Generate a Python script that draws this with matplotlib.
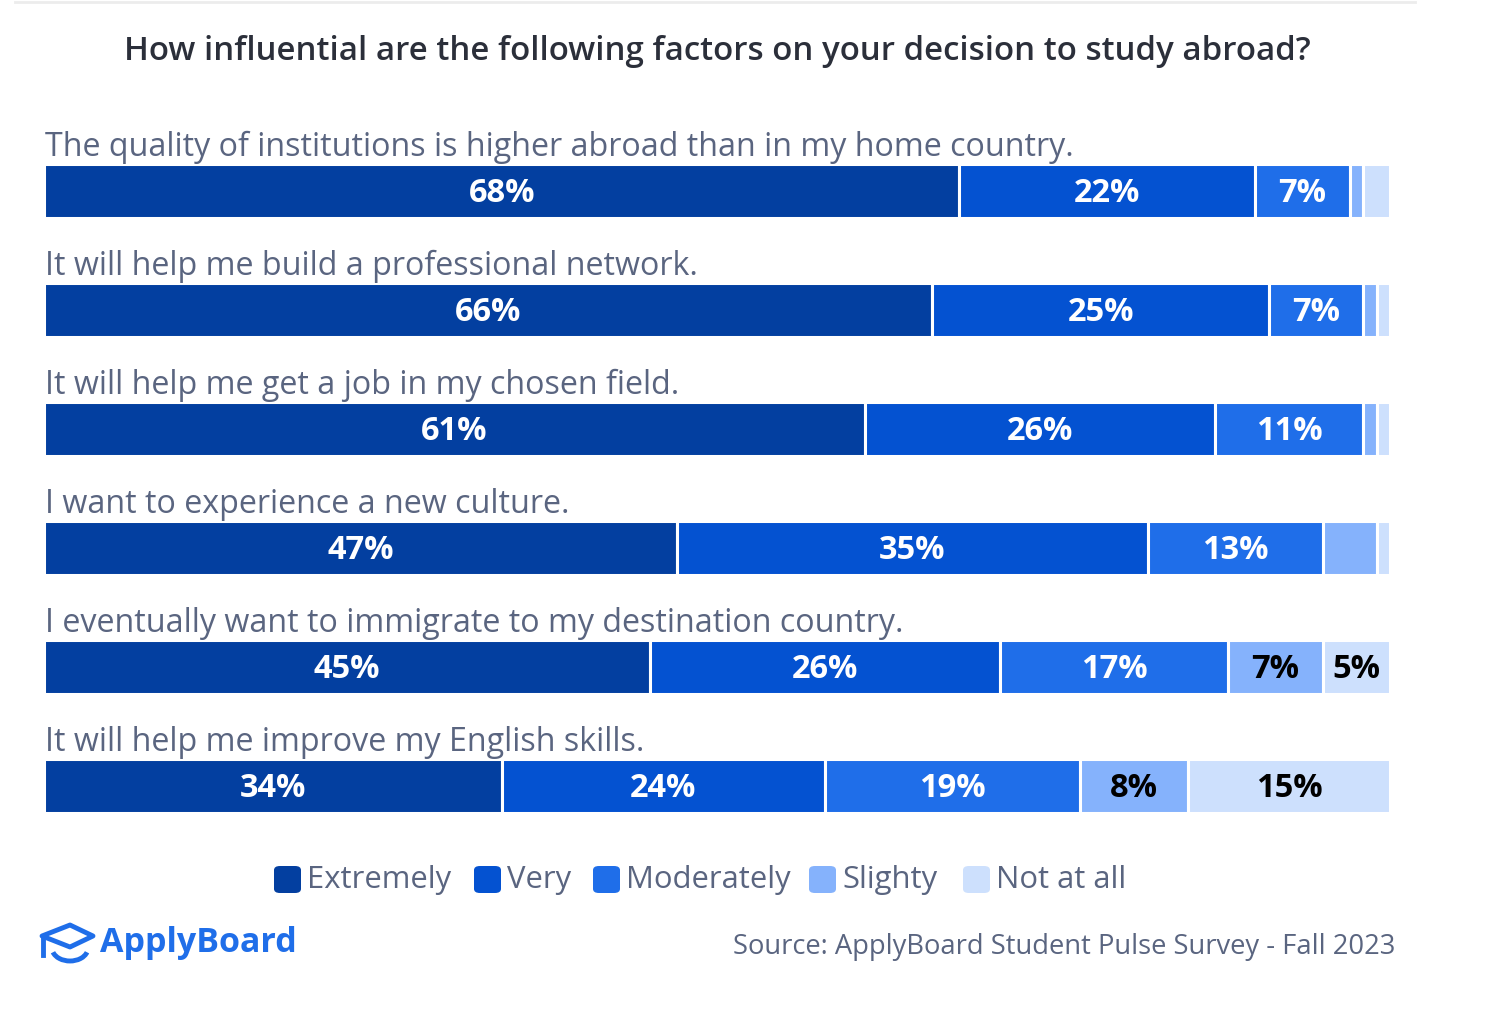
import matplotlib.pyplot as plt
from matplotlib.patches import FancyBboxPatch, Polygon, Arc
import numpy as np

# survey data
factors = [
    "The quality of institutions is higher abroad than in my home country.",
    "It will help me build a professional network.",
    "It will help me get a job in my chosen field.",
    "I want to experience a new culture.",
    "I eventually want to immigrate to my destination country.",
    "It will help me improve my English skills.",
]
levels = ["Extremely", "Very", "Moderately", "Slighty", "Not at all"]
extremely = [68, 66, 61, 47, 45, 34]
very = [22, 25, 26, 35, 26, 24]
moderately = [7, 7, 11, 13, 17, 19]
slightly = [1, 1, 1, 4, 7, 8]
not_at_all = [2, 1, 1, 1, 5, 15]

colors = ["#033fa0", "#0452d1", "#1f6ee9", "#85b2fc", "#cde0fd"]
label_colors = ["white", "white", "white", "black", "black"]

W, H = 1492, 1024
fig = plt.figure(figsize=(W / 100, H / 100), dpi=100)
plt.rcParams['font.family'] = ['Open Sans', 'DejaVu Sans']

def px(x, y):
    return x / W, 1 - y / H

# axes covering the bar area, rows -0.5 .. 5.5
top, bottom = 131.5, 845.5
ax = fig.add_axes([44 / W, 1 - bottom / H, (1390 - 44) / W, (bottom - top) / H])
ax.set_xlim(0, 100)
ax.set_ylim(len(factors) - 0.5, -0.5)
ax.axis('off')

series = [extremely, very, moderately, slightly, not_at_all]
rows = np.arange(len(factors))
left = np.zeros(len(factors))
for vals, col, tcol in zip(series, colors, label_colors):
    vals = np.array(vals, dtype=float)
    ax.barh(rows, vals, left=left, height=0.455, color=col,
            edgecolor="white", linewidth=2.2)
    for r, v, l in zip(rows, vals, left):
        if v >= 5:
            ax.text(l + v / 2, r + 0.02, f"{int(v)}%", ha="center", va="center",
                    color=tcol, fontsize=23.5, fontweight="bold")
    left += vals

for r, name in zip(rows, factors):
    ax.text(0.05, r - 0.365, name, ha="left", va="center", fontsize=23.2,
            color="#5a6580")

# title
fig.text(*px(717, 51), "How influential are the following factors on your decision to study abroad?",
         ha="center", va="center", fontsize=23.8, fontweight="semibold",
         color="#2b2f3a")

# faint top rule
fig.add_artist(plt.Line2D([15 / W, 1415 / W], [1 - 2 / H, 1 - 2 / H],
                          color="#ececec", linewidth=2))

# legend
legend_x = [274, 474, 593, 809, 963]
for lx, name, col in zip(legend_x, levels, colors):
    x0, y0 = px(lx, 893)
    fig.add_artist(FancyBboxPatch((x0, y0), 27 / W, 27 / H,
                                  boxstyle="round,pad=0,rounding_size=0.004",
                                  facecolor=col, edgecolor="none",
                                  transform=fig.transFigure))
    fig.text(*px(lx + 33, 880), name, ha="left", va="center", fontsize=22.3,
             color="#5a6580")

# source
fig.text(*px(1395, 947), "Source: ApplyBoard Student Pulse Survey - Fall 2023",
         ha="right", va="center", fontsize=19.7, color="#5a6580")

# logo
blue = "#1f6ee9"
fig.text(*px(100, 943), "ApplyBoard", ha="left", va="center", fontsize=24.5,
         fontweight="bold", color=blue)
cap = [px(42, 936), px(70, 925), px(93, 936), px(70, 947)]
fig.add_artist(Polygon(cap, closed=True, fill=False, edgecolor=blue, linewidth=3.5,
                       transform=fig.transFigure, joinstyle="round"))
fig.add_artist(Arc(px(70, 948), 36 / W, 26 / H, theta1=200, theta2=340,
                   edgecolor=blue, linewidth=3.5, transform=fig.transFigure))
fig.add_artist(plt.Line2D([43 / W, 43 / W], [1 - 937 / H, 1 - 955 / H],
                          color=blue, linewidth=3.5))

fig.savefig("out.png", dpi=100)
